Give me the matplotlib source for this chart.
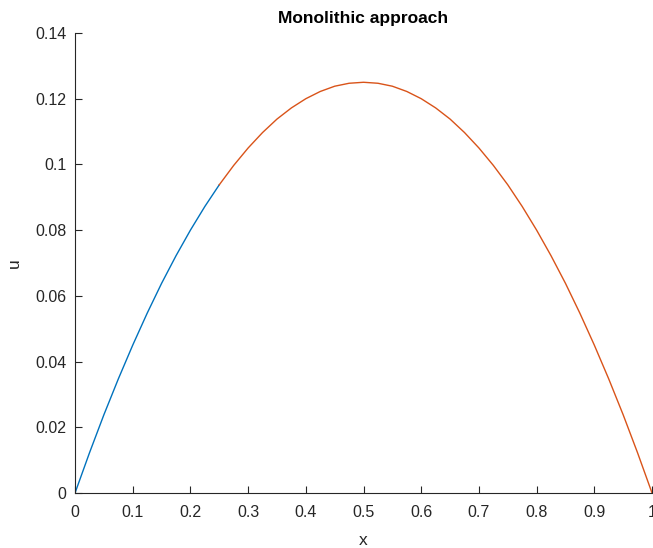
import matplotlib
matplotlib.use("Agg")
import matplotlib.pyplot as plt

# solution on the left subdomain (blue) and the right subdomain (red)
x_left = [0, 0.025, 0.05, 0.075, 0.1, 0.125, 0.15, 0.175, 0.2, 0.225, 0.25]
u_left = [0, 0.0122, 0.0238, 0.0347, 0.045, 0.0547, 0.0638, 0.0722, 0.08, 0.0872, 0.0938]

x_right = [0.25, 0.275, 0.3, 0.325, 0.35, 0.375, 0.4, 0.425, 0.45, 0.475, 0.5,
           0.525, 0.55, 0.575, 0.6, 0.625, 0.65, 0.675, 0.7, 0.725, 0.75,
           0.775, 0.8, 0.825, 0.85, 0.875, 0.9, 0.925, 0.95, 0.975, 1.0]
u_right = [0.0938, 0.0997, 0.105, 0.1097, 0.1138, 0.1172, 0.12, 0.1222, 0.1238, 0.1247, 0.125,
           0.1247, 0.1238, 0.1222, 0.12, 0.1172, 0.1138, 0.1097, 0.105, 0.0997, 0.0938,
           0.0872, 0.08, 0.0722, 0.0638, 0.0547, 0.045, 0.0347, 0.0238, 0.0122, 0]

xticks = [0, 0.1, 0.2, 0.3, 0.4, 0.5, 0.6, 0.7, 0.8, 0.9, 1]
xticklabels = ['0', '0.1', '0.2', '0.3', '0.4', '0.5', '0.6', '0.7', '0.8', '0.9', '1']
yticks = [0, 0.02, 0.04, 0.06, 0.08, 0.1, 0.12, 0.14]
yticklabels = ['0', '0.02', '0.04', '0.06', '0.08', '0.1', '0.12', '0.14']

plt.rcParams['font.family'] = ['Liberation Sans', 'DejaVu Sans']
axcol = (0.15, 0.15, 0.15)

fig = plt.figure(figsize=(6.53, 5.48), dpi=100)
ax = fig.add_axes([0.1149, 0.1004, 0.8836, 0.8394])

ax.plot(x_left, u_left, color='#0072BD', lw=1.0)
ax.plot(x_right, u_right, color='#D95319', lw=1.0)

ax.set_xlim(0, 1)
ax.set_ylim(0, 0.14)
ax.set_xticks(xticks)
ax.set_xticklabels(xticklabels)
ax.set_yticks(yticks)
ax.set_yticklabels(yticklabels)
ax.tick_params(direction='in', length=5, width=0.8, colors=axcol, labelsize=11.5, pad=6)
ax.tick_params(axis='x', pad=9)

ax.spines['top'].set_visible(False)
ax.spines['right'].set_visible(False)
for s in ('left', 'bottom'):
    ax.spines[s].set_color(axcol)
    ax.spines[s].set_linewidth(0.8)

ax.set_title('Monolithic approach', fontsize=12.5, fontweight='bold', pad=7)
ax.set_xlabel('x', fontsize=12.5, color=axcol, labelpad=9)
ax.set_ylabel('u', fontsize=12.5, color=axcol, labelpad=10)

fig.savefig('out.png', dpi=100)
